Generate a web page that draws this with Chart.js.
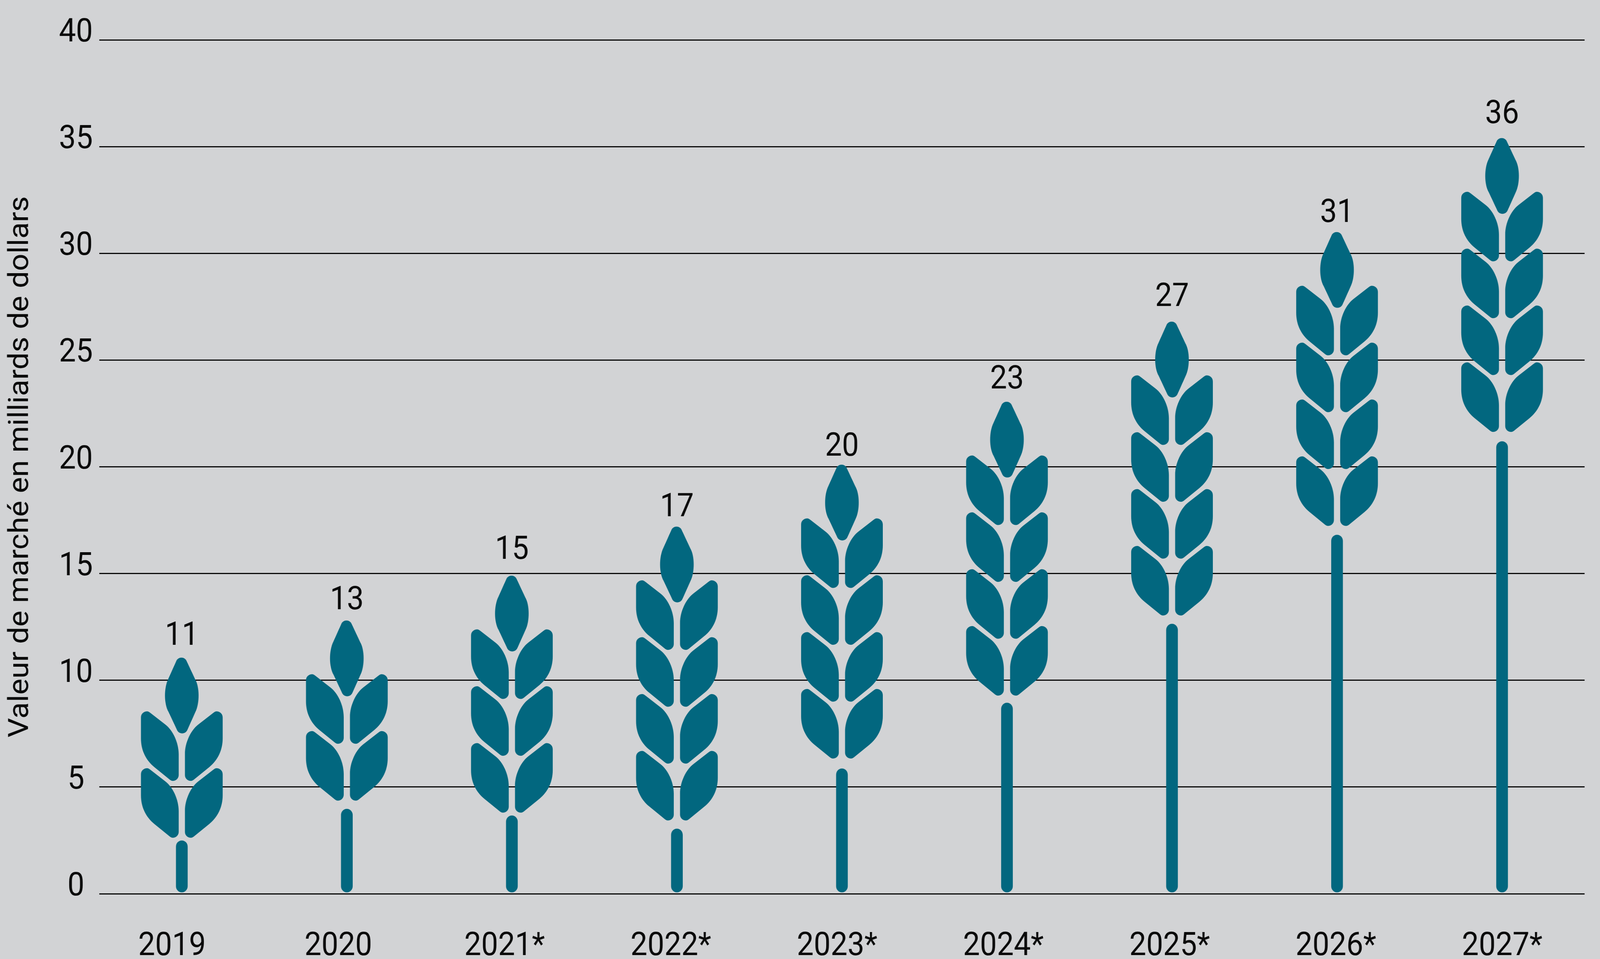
<!DOCTYPE html>
<html lang="fr">
<head>
<meta charset="utf-8">
<title>Valeur de marché</title>
<style>
    html, body { margin: 0; padding: 0; background: #d2d3d5; overflow: hidden; }
    /* the browser window can open narrower than the 4464 the chart is laid out for, so fit it */
    canvas { display: block; width: 100vw !important; height: 100vh !important; }
</style>
<script src="https://cdn.jsdelivr.net/npm/chart.js@4"></script>
</head>
<body>
<canvas id="wheatChart" width="4464" height="2454"></canvas>
<script>
const years = ['2019', '2020', '2021*', '2022*', '2023*', '2024*', '2025*', '2026*', '2027*'];
const marketValues = [11, 13, 15, 17, 20, 23, 27, 31, 36];
// top of each ear and top of each stem
const earTops = [11.06, 12.8, 14.9, 17.2, 20.1, 23.05, 26.8, 31, 35.4];
const stemTops = [2.49, 3.97, 3.66, 3.04, 5.86, 8.94, 12.64, 16.81, 21.19];
const stemBase = 0.07;
const leafPairs = [2, 2, 3, 4, 4, 4, 4, 4, 4];
const yTicks = [0, 5, 10, 15, 20, 25, 30, 35, 40];

const labelGaps = [33, 29, 43, 26, 23, 34, 40, 26, 38];

const TEAL = '#02677f';
const INK = '#0a0a0a';
const FONT = 'Roboto, "Liberation Sans", sans-serif';

function topKernel() {
    const p = new Path2D();
    p.moveTo(-16, -87);
    p.bezierCurveTo(-11, -100.3, 9, -100.3, 14, -87);
    p.lineTo(37, -42);
    p.bezierCurveTo(50, -22, 50, 20, 38, 42);
    p.lineTo(16, 87);
    p.bezierCurveTo(11, 100.3, -9, 100.3, -14, 87);
    p.lineTo(-37, 42);
    p.bezierCurveTo(-50, 22, -50, -20, -38, -42);
    p.closePath();
    return p;
}

function sideLeaf() {
    const p = new Path2D();
    p.moveTo(87, 4.5);
    p.lineTo(46.3, 33.5);
    p.bezierCurveTo(25, 48.5, 8.7, 80, 8.7, 109.4);
    p.lineTo(8.7, 163);
    p.bezierCurveTo(8.7, 172, 17, 178, 25, 178);
    p.bezierCurveTo(29, 178, 32, 176, 34.7, 174);
    p.lineTo(76.3, 142.9);
    p.bezierCurveTo(100, 125, 114, 100, 114, 69.2);
    p.lineTo(114, 15.6);
    p.bezierCurveTo(114, 6, 106, 0, 96.3, 0);
    p.bezierCurveTo(93, 0, 90, 2.5, 87, 4.5);
    p.closePath();
    return p;
}

const kernelPath = topKernel();
const leafPath = sideLeaf();

// draws the ear of wheat and the value above each point of the "tips" dataset
const wheatEars = {
    id: 'wheatEars',
    afterDatasetsDraw(chart) {
        const ctx = chart.ctx;
        const points = chart.getDatasetMeta(1).data;
        points.forEach((pt, i) => {
            ctx.save();
            ctx.translate(pt.x, pt.y);
            ctx.fillStyle = TEAL;
            ctx.save();
            ctx.translate(0, 97);
            ctx.fill(kernelPath);
            ctx.restore();
            for (let n = 0; n < leafPairs[i]; n++) {
                ctx.save();
                ctx.translate(0, 137.5 + n * 145.5);
                ctx.fill(leafPath);
                ctx.scale(-1, 1);
                ctx.fill(leafPath);
                ctx.restore();
            }
            ctx.restore();

            ctx.fillStyle = INK;
            ctx.font = '84px ' + FONT;
            ctx.textAlign = 'center';
            ctx.textBaseline = 'alphabetic';
            ctx.fillText(String(marketValues[i]), pt.x, pt.y - labelGaps[i]);
        });
    }
};

new Chart(document.getElementById('wheatChart'), {
    type: 'bar',
    data: {
        labels: years,
        datasets: [
            {
                label: 'Tige',
                data: stemTops.map(v => [stemBase, v]),
                backgroundColor: TEAL,
                barThickness: 32,
                borderRadius: 16,
                borderSkipped: false
            },
            {
                type: 'line',
                label: 'Valeur de marché',
                data: earTops,
                showLine: false,
                pointRadius: 0
            }
        ]
    },
    options: {
        responsive: false,
        animation: false,
        devicePixelRatio: 1,
        layout: { padding: { top: 102, right: 43, left: 0, bottom: 0 } },
        plugins: {
            legend: { display: false },
            tooltip: { enabled: false }
        },
        scales: {
            x: { display: false, offset: true },
            // the year labels sit on a slightly tighter spacing than the stems
            years: {
                type: 'linear',
                position: 'bottom',
                offset: false,
                min: -0.4376,
                max: 8.496,
                afterBuildTicks(scale) {
                    scale.ticks = years.map((_, i) => ({ value: i }));
                },
                afterFit(scale) { scale.height = 167; },
                grid: { display: false },
                border: { display: false },
                ticks: {
                    autoSkip: false,
                    maxRotation: 0,
                    padding: 78,
                    color: INK,
                    font: { family: FONT, size: 84 },
                    callback: value => years[value]
                }
            },
            y: {
                min: 0,
                max: 40,
                afterBuildTicks(scale) {
                    scale.ticks = yTicks.map(v => ({ value: v }));
                },
                afterFit(scale) { scale.width = 277; },
                grid: { color: INK, lineWidth: 3, drawTicks: false },
                border: { display: false },
                title: {
                    display: true,
                    text: 'Valeur de marché en milliards de dollars',
                    color: INK,
                    font: { family: FONT, size: 78 },
                    padding: { top: 12, bottom: 0 }
                },
                ticks: {
                    crossAlign: 'center',
                    padding: 18,
                    labelOffset: -17,
                    color: INK,
                    font: { family: FONT, size: 84 }
                }
            }
        }
    },
    plugins: [wheatEars]
});
</script>
</body>
</html>
